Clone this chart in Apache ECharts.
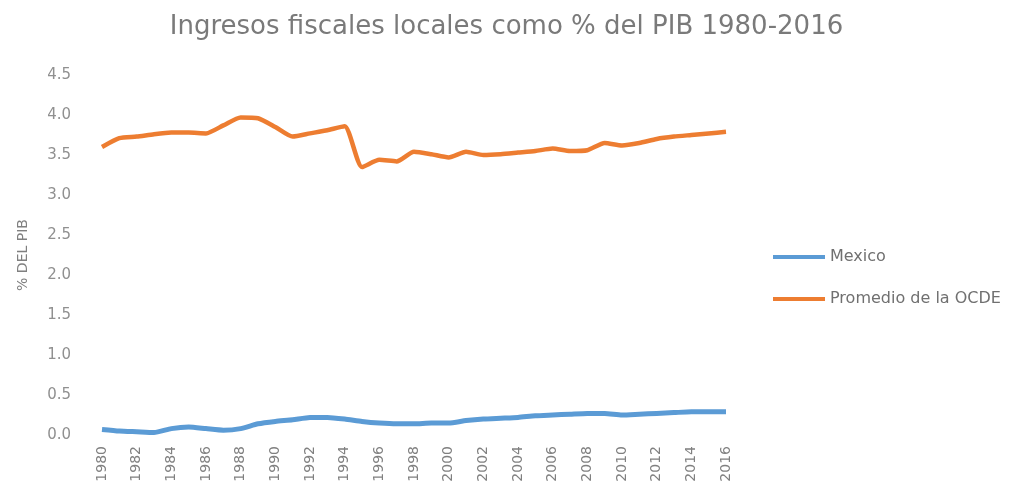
<!DOCTYPE html>
<html>
<head>
<meta charset="utf-8">
<script src="https://cdn.jsdelivr.net/npm/echarts@6/dist/echarts.min.js"></script>
<style>html,body{margin:0;padding:0;background:#fff;}#c{width:1013px;height:490px;}</style>
</head>
<body>
<div id="c"></div>
<script>
const years = [];
for (let y = 1980; y <= 2016; y++) years.push(String(y));
const mexico = [0.07,0.05,0.04,0.03,0.08,0.10,0.08,0.06,0.08,0.14,0.17,0.19,0.22,0.22,0.20,0.17,0.15,0.14,0.14,0.15,0.15,0.18,0.20,0.21,0.22,0.24,0.25,0.26,0.27,0.27,0.25,0.26,0.27,0.28,0.29,0.29,0.29];
const ocde = [3.60,3.71,3.73,3.76,3.78,3.78,3.77,3.87,3.97,3.96,3.85,3.73,3.77,3.81,3.86,3.35,3.44,3.42,3.54,3.51,3.47,3.54,3.50,3.51,3.53,3.55,3.58,3.55,3.56,3.65,3.62,3.65,3.70,3.73,3.75,3.77,3.79];
const seriesNames = ['Mexico', 'Promedio de la OCDE'];
const titleText = 'Ingresos fiscales locales como % del PIB 1980-2016';
const yName = '% DEL PIB';

const chart = echarts.init(document.getElementById('c'), null, {renderer: 'canvas'});
chart.setOption({
  backgroundColor: '#ffffff',
  animation: false,
  title: {
    text: titleText, left: 'center', top: 9,
    textStyle: {color: '#7a7a7a', fontSize: 26, fontWeight: 'normal', fontFamily: 'DejaVu Sans'}
  },
  legend: {
    orient: 'vertical', left: 768, top: 244, itemWidth: 52, itemHeight: 4, itemGap: 26,
    icon: 'rect',
    textStyle: {color: '#707070', fontSize: 16, fontFamily: 'DejaVu Sans'},
    data: seriesNames
  },
  grid: {left: 102, right: 287, top: 75, bottom: 55},
  xAxis: {
    type: 'category', data: years, boundaryGap: false,
    axisLine: {show: false}, axisTick: {show: false},
    axisLabel: {rotate: 90, interval: 1, margin: 11, color: '#808080', fontSize: 14, fontFamily: 'DejaVu Sans'}
  },
  yAxis: {
    type: 'value', min: 0, max: 4.5, interval: 0.5,
    name: yName, nameLocation: 'middle', nameGap: 72, nameRotate: 90,
    nameTextStyle: {color: '#808080', fontSize: 14, fontFamily: 'DejaVu Sans'},
    axisLine: {show: false}, axisTick: {show: false}, splitLine: {show: false},
    axisLabel: {margin: 31, color: '#909090', fontSize: 15, fontFamily: 'DejaVu Sans', formatter: v => v.toFixed(1)}
  },
  series: [
    {name: seriesNames[0], type: 'line', data: mexico, showSymbol: false, smooth: 0.2,
     lineStyle: {color: '#5b9bd5', width: 5}, itemStyle: {color: '#5b9bd5'}},
    {name: seriesNames[1], type: 'line', data: ocde, showSymbol: false, smooth: 0.2,
     lineStyle: {color: '#ed7d31', width: 4.5}, itemStyle: {color: '#ed7d31'}}
  ]
});
</script>
</body>
</html>
